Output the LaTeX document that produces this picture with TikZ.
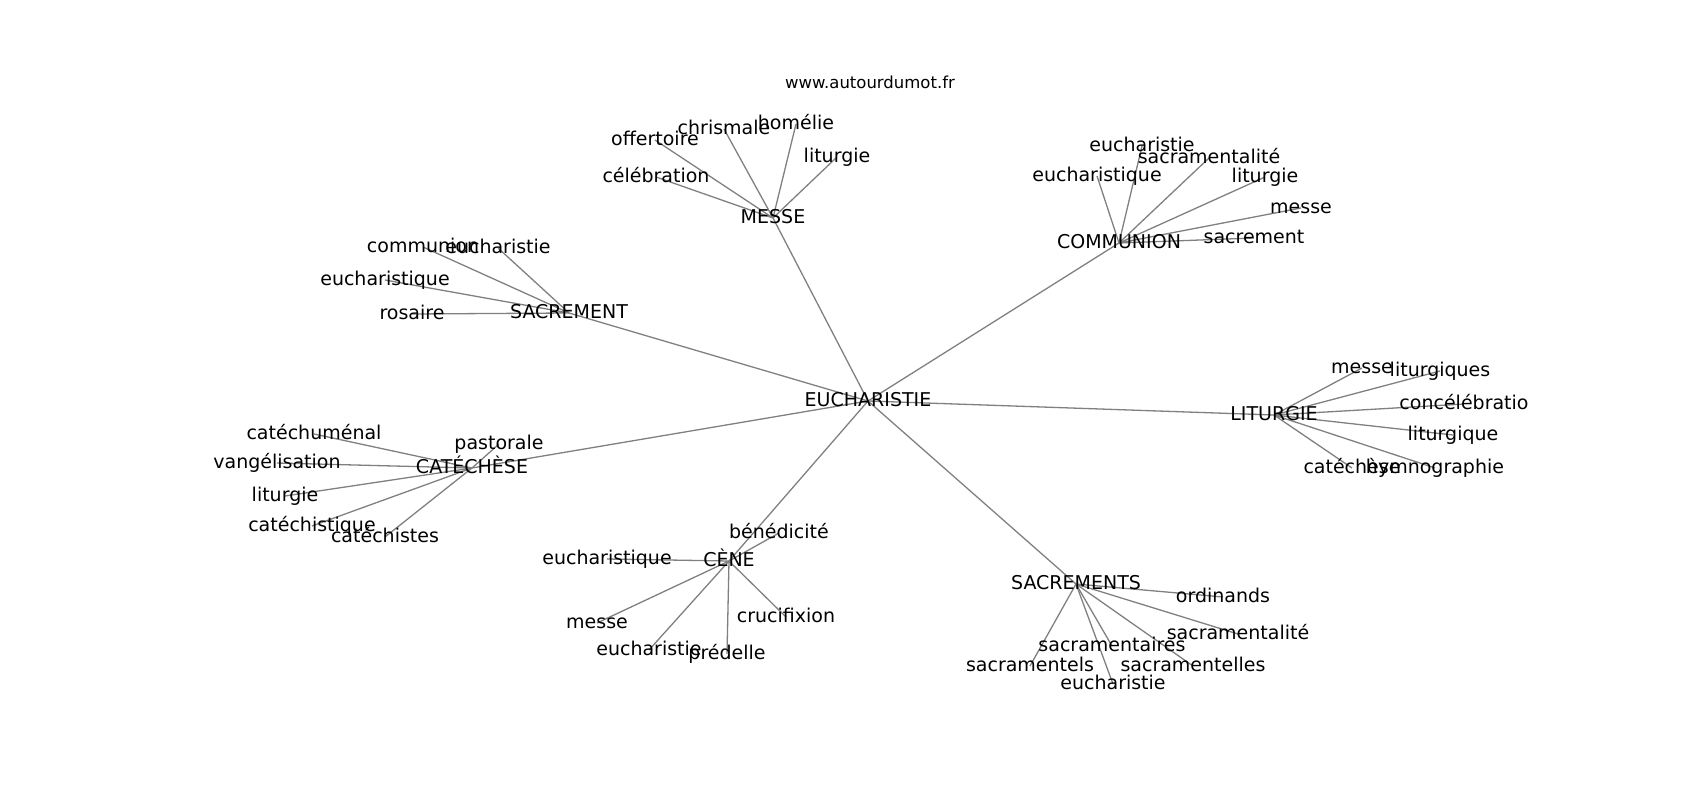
\documentclass[tikz,border=0pt]{standalone}
\usepackage{fontspec}
\setmainfont{DejaVu Sans}
\usepackage{tikz}
\usetikzlibrary{backgrounds}
\tikzstyle{word} = [inner sep=0pt, text height=14.4pt, text depth=4pt,
    font=\fontsize{19}{23}\selectfont]
\tikzstyle{site} = [inner sep=0pt, font=\fontsize{16.5}{20}\selectfont]
\tikzstyle{line} = [draw, black!50, line width=1.3pt]

\begin{document}
\begin{tikzpicture}[x=1pt, y=-1pt]
    \useasboundingbox (0,0) rectangle (1700,800);
    % Place nodes
    \node [site] (www) at (870,82) {www.autourdumot.fr};
    \node [word] (E) at (868,401) {EUCHARISTIE};

    \node [word] (M) at (773,218) {MESSE};
    \node [word] (M1) at (656,177) {célébration};
    \node [word] (M2) at (655,140) {offertoire};
    \node [word] (M3) at (724,129) {chrismale};
    \node [word] (M4) at (796,124) {homélie};
    \node [word] (M5) at (837,157) {liturgie};

    \node [word] (C) at (1119,243) {COMMUNION};
    \node [word] (C1) at (1142,146) {eucharistie};
    \node [word] (C2) at (1209,158) {sacramentalité};
    \node [word] (C3) at (1097,176) {eucharistique};
    \node [word] (C4) at (1265,177) {liturgie};
    \node [word] (C5) at (1301,208) {messe};
    \node [word] (C6) at (1254,238) {sacrement};

    \node [word] (S) at (569,313) {SACREMENT};
    \node [word] (S1) at (423,247) {communion};
    \node [word] (S2) at (498,248) {eucharistie};
    \node [word] (S3) at (385,280) {eucharistique};
    \node [word] (S4) at (412,314) {rosaire};

    \node [word] (K) at (472,468) {CATÉCHÈSE};
    \node [word] (K1) at (499,444) {pastorale};
    \node [word] (K2) at (314,434) {catéchuménal};
    \node [word] (K3) at (277,463) {vangélisation};
    \node [word] (K4) at (285,496) {liturgie};
    \node [word] (K5) at (312,526) {catéchistique};
    \node [word] (K6) at (385,537) {catéchistes};

    \node [word] (L) at (1274,415) {LITURGIE};
    \node [word] (L1) at (1362,368) {messe};
    \node [word] (L2) at (1440,371) {liturgiques};
    \node [word] (L3) at (1464,404) {concélébratio};
    \node [word] (L4) at (1453,435) {liturgique};
    \node [word] (L5) at (1352,468) {catéchèse};
    \node [word] (L6) at (1435,468) {hymnographie};

    \node [word] (N) at (729,561) {CÈNE};
    \node [word] (N1) at (779,533) {bénédicité};
    \node [word] (N2) at (607,559) {eucharistique};
    \node [word] (N3) at (597,623) {messe};
    \node [word] (N4) at (649,650) {eucharistie};
    \node [word] (N5) at (727,654) {prédelle};
    \node [word] (N6) at (786,617) {crucifixion};

    \node [word] (R) at (1076,584) {SACREMENTS};
    \node [word] (R1) at (1223,597) {ordinands};
    \node [word] (R2) at (1238,634) {sacramentalité};
    \node [word] (R3) at (1112,646) {sacramentaires};
    \node [word] (R4) at (1030,666) {sacramentels};
    \node [word] (R5) at (1193,666) {sacramentelles};
    \node [word] (R6) at (1113,684) {eucharistie};

    % Draw edges
    \begin{scope}[on background layer]
    \path [line] (E.center) -- (M.center);
    \path [line] (E.center) -- (C.center);
    \path [line] (E.center) -- (S.center);
    \path [line] (E.center) -- (K.center);
    \path [line] (E.center) -- (L.center);
    \path [line] (E.center) -- (N.center);
    \path [line] (E.center) -- (R.center);

    \path [line] (M.center) -- (M1.center) (M.center) -- (M2.center) (M.center) -- (M3.center);
    \path [line] (M.center) -- (M4.center) (M.center) -- (M5.center);
    \path [line] (C.center) -- (C1.center) (C.center) -- (C2.center) (C.center) -- (C3.center);
    \path [line] (C.center) -- (C4.center) (C.center) -- (C5.center) (C.center) -- (C6.center);
    \path [line] (S.center) -- (S1.center) (S.center) -- (S2.center);
    \path [line] (S.center) -- (S3.center) (S.center) -- (S4.center);
    \path [line] (K.center) -- (K1.center) (K.center) -- (K2.center) (K.center) -- (K3.center);
    \path [line] (K.center) -- (K4.center) (K.center) -- (K5.center) (K.center) -- (K6.center);
    \path [line] (L.center) -- (L1.center) (L.center) -- (L2.center) (L.center) -- (L3.center);
    \path [line] (L.center) -- (L4.center) (L.center) -- (L5.center) (L.center) -- (L6.center);
    \path [line] (N.center) -- (N1.center) (N.center) -- (N2.center) (N.center) -- (N3.center);
    \path [line] (N.center) -- (N4.center) (N.center) -- (N5.center) (N.center) -- (N6.center);
    \path [line] (R.center) -- (R1.center) (R.center) -- (R2.center) (R.center) -- (R3.center);
    \path [line] (R.center) -- (R4.center) (R.center) -- (R5.center) (R.center) -- (R6.center);
    \end{scope}
\end{tikzpicture}
\end{document}
